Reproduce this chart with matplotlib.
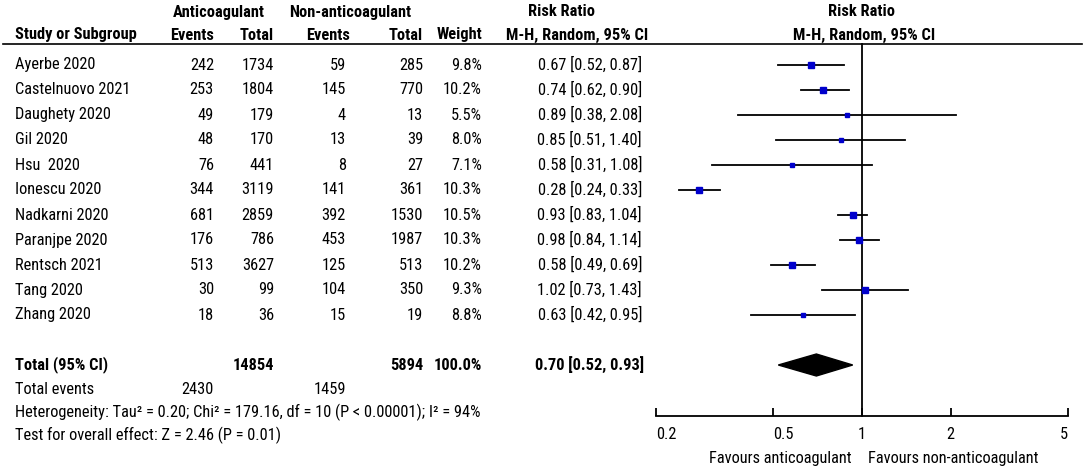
import numpy as np
import matplotlib
matplotlib.use("Agg")
import matplotlib.pyplot as plt
from matplotlib import font_manager

# condensed sans close to Arial Narrow
fam = "Liberation Sans"
for f in ["Liberation Sans Narrow", "Arial Narrow", "Roboto Condensed", "PT Sans Narrow"]:
    try:
        font_manager.findfont(f, fallback_to_default=False)
        fam = f
        break
    except Exception:
        pass
plt.rcParams['font.family'] = [fam, 'DejaVu Sans']
fs = 11.8

studies = ["Ayerbe 2020", "Castelnuovo 2021", "Daughety 2020", "Gil 2020", "Hsu  2020",
           "Ionescu 2020", "Nadkarni 2020", "Paranjpe 2020", "Rentsch 2021", "Tang 2020", "Zhang 2020"]
ev_anti = [242, 253, 49, 48, 76, 344, 681, 176, 513, 30, 18]
tot_anti = [1734, 1804, 179, 170, 441, 3119, 2859, 786, 3627, 99, 36]
ev_non = [59, 145, 4, 13, 8, 141, 392, 453, 125, 104, 15]
tot_non = [285, 770, 13, 39, 27, 361, 1530, 1987, 513, 350, 19]
weight = [9.8, 10.2, 5.5, 8.0, 7.1, 10.3, 10.5, 10.3, 10.2, 9.3, 8.8]
rr = [0.67, 0.74, 0.89, 0.85, 0.58, 0.28, 0.93, 0.98, 0.58, 1.02, 0.63]
lo = [0.52, 0.62, 0.38, 0.51, 0.31, 0.24, 0.83, 0.84, 0.49, 0.73, 0.42]
hi = [0.87, 0.90, 2.08, 1.40, 1.08, 0.33, 1.04, 1.14, 0.69, 1.43, 0.95]
pooled = (0.70, 0.52, 0.93)
tot_n_anti, tot_n_non = 14854, 5894
tot_ev_anti, tot_ev_non = 2430, 1459
het_text = "Heterogeneity: Tau\u00b2 = 0.20; Chi\u00b2 = 179.16, df = 10 (P < 0.00001); I\u00b2 = 94%"
test_text = "Test for overall effect: Z = 2.46 (P = 0.01)"
ticks = [0.2, 0.5, 1, 2, 5]
tick_labels = ["0.2", "0.5", "1", "2", "5"]

W, H = 1084, 472
fig = plt.figure(figsize=(W / 100, H / 100), dpi=100)

# text layer in pixel coordinates
tx = fig.add_axes([0, 0, 1, 1])
tx.set_xlim(0, W)
tx.set_ylim(H, 0)
tx.axis('off')

row0, step = 65, 25
ys = [row0 + step * i for i in range(len(studies))]
y_tot = row0 + step * 12
y_ev, y_het, y_test = y_tot + 24, y_tot + 47, y_tot + 70

c_name, c_ev1, c_tot1, c_ev2, c_tot2, c_w, c_rr = 15, 214, 274, 346, 423, 482, 642

def t(x, y, s, ha='right', bold=False):
    tx.text(x, y, s, ha=ha, va='center', fontsize=fs, fontweight='bold' if bold else 'normal')

# headers
t(219, 12, "Anticoagulant", 'center', True)
t(350, 12, "Non-anticoagulant", 'center', True)
t(562, 12, "Risk Ratio", 'center', True)
t(862, 12, "Risk Ratio", 'center', True)
t(c_name, 35, "Study or Subgroup", 'left', True)
t(c_ev1, 35, "Events", bold=True)
t(c_tot1, 35, "Total", bold=True)
t(350, 35, "Events", bold=True)
t(c_tot2, 35, "Total", bold=True)
t(c_w, 35, "Weight", bold=True)
t(648, 35, "M-H, Random, 95% CI", bold=True)
t(864, 35, "M-H, Random, 95% CI", 'center', True)
tx.plot([3, 1082], [44, 44], color='black', lw=1.2)

for i, y in enumerate(ys):
    t(c_name, y, studies[i], 'left')
    t(c_ev1, y, str(ev_anti[i]))
    t(c_tot1, y, str(tot_anti[i]))
    t(c_ev2, y, str(ev_non[i]))
    t(c_tot2, y, str(tot_non[i]))
    t(c_w, y, f"{weight[i]:.1f}%")
    t(c_rr, y, f"{rr[i]:.2f} [{lo[i]:.2f}, {hi[i]:.2f}]")

t(c_name, y_tot, "Total (95% CI)", 'left', True)
t(c_tot1, y_tot, str(tot_n_anti), bold=True)
t(c_tot2, y_tot, str(tot_n_non), bold=True)
t(c_w, y_tot, f"{sum(weight):.1f}%", bold=True)
t(644, y_tot, f"{pooled[0]:.2f} [{pooled[1]:.2f}, {pooled[2]:.2f}]", bold=True)
t(c_name, y_ev, "Total events", 'left')
t(c_ev1, y_ev, str(tot_ev_anti))
t(c_ev2, y_ev, str(tot_ev_non))
t(c_name, y_het, het_text, 'left')
t(c_name, y_test, test_text, 'left')

# forest panel
x0, x1 = 656, 1068
ax = fig.add_axes([x0 / W, 0, (x1 - x0) / W, 1])
ax.set_xscale('log')
ax.set_xlim(0.2, 5)
ax.set_ylim(H, 0)
ax.patch.set_alpha(0)
for s in ['top', 'right', 'left']:
    ax.spines[s].set_visible(False)
y_axis = 416
ax.spines['bottom'].set_position(('data', y_axis))
ax.spines['bottom'].set_linewidth(1.3)
ax.set_yticks([])
ax.set_xticks(ticks)
ax.set_xticklabels(tick_labels)
ax.minorticks_off()
ax.tick_params(axis='x', direction='in', length=6, width=1.3, labelsize=fs, pad=8)
for lab, ha in zip(ax.get_xticklabels(), ['left', 'left', 'center', 'center', 'right']):
    lab.set_ha(ha)

ax.plot([1, 1], [44, y_axis], color='black', lw=1.3)
for i, y in enumerate(ys):
    ax.plot([lo[i], hi[i]], [y, y], color='black', lw=1.3)
    ax.plot(rr[i], y, marker='s', color='#0000cc', ms=0.4 * weight[i], mec='#0000cc')

dx = [pooled[1], pooled[0], pooled[2], pooled[0]]
dy = [y_tot, y_tot - 11, y_tot, y_tot + 11]
ax.fill(dx, dy, color='black')

tx.text(852, 459, "Favours anticoagulant", ha='right', va='center', fontsize=fs)
tx.text(868, 459, "Favours non-anticoagulant", ha='left', va='center', fontsize=fs)

fig.savefig("out.png", dpi=100)
